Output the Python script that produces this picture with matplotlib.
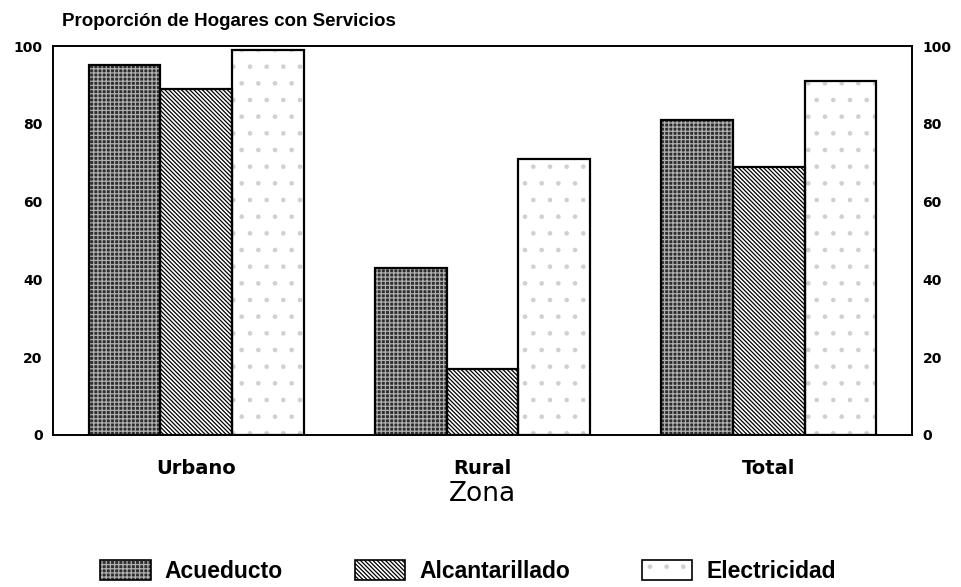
import matplotlib
matplotlib.use("Agg")
import matplotlib.pyplot as plt
import numpy as np
from matplotlib.patches import Patch

plt.rcParams['font.family'] = ['DejaVu Sans']
plt.rcParams['hatch.linewidth'] = 0.9

zones = ["Urbano", "Rural", "Total"]
series = ["Acueducto", "Alcantarillado", "Electricidad"]
acueducto = [95, 43, 81]
alcantarillado = [89, 17, 69]
electricidad = [99, 71, 91]
yticks = [0, 20, 40, 60, 80, 100]

values = [acueducto, alcantarillado, electricidad]
faces = ["#2e2e2e", "white", "white"]
hatches = ["++++", "\\\\\\\\\\\\\\\\", "."]
hatch_colors = ["#b0b0b0", "black", "#d0d0d0"]

fig = plt.figure(figsize=(9.61, 5.87), dpi=100)
ax = fig.add_axes([53/961, 1-435/587, (912-53)/961, (435-46)/587])

x = np.arange(len(zones))
w = 0.25
for i, (name, vals) in enumerate(zip(series, values)):
    ax.bar(x + (i-1)*w, vals, width=w, facecolor=faces[i],
           edgecolor=hatch_colors[i], hatch=hatches[i], linewidth=0, zorder=2)
    ax.bar(x + (i-1)*w, vals, width=w, facecolor="none",
           edgecolor="black", linewidth=1.6, zorder=3)

ax.set_xlim(-0.5, 2.5)
ax.set_ylim(0, 100)
ax.set_yticks(yticks)
ax.set_yticklabels([str(t) for t in yticks], fontsize=10, fontweight='bold',
                   family='DejaVu Sans')
ax.tick_params(axis='y', length=0, pad=7.5, labelright=True, right=False)
ax.set_xticks(x)
ax.set_xticklabels(zones, fontsize=14, fontweight='bold', family='DejaVu Sans')
ax.tick_params(axis='x', length=0, pad=17)
for s in ax.spines.values():
    s.set_linewidth(1.4)

fig.text(482/961, 1-494/587, "Zona", fontsize=19, ha='center', va='center',
         family='DejaVu Sans')
fig.text(62/961, 1-22/587, "Proporción de Hogares con Servicios", fontsize=13.5,
         fontweight='bold', va='center', ha='left', family='Liberation Sans')

handles = []
for i in range(3):
    fill = Patch(facecolor=faces[i], edgecolor=hatch_colors[i], hatch=hatches[i],
                 linewidth=0)
    outline = Patch(facecolor='none', edgecolor='black', linewidth=1.2)
    handles.append((fill, outline))
leg = fig.legend(handles=handles, labels=series, loc='center',
                 bbox_to_anchor=(468/961, 1-571/587),
                 ncol=3, frameon=False, handlelength=2.2,
                 handleheight=0.95, columnspacing=3.15, handletextpad=0.6,
                 prop={'weight': 'bold', 'size': 16.5, 'family': 'Liberation Sans'})

fig.savefig("out.png", dpi=100)
